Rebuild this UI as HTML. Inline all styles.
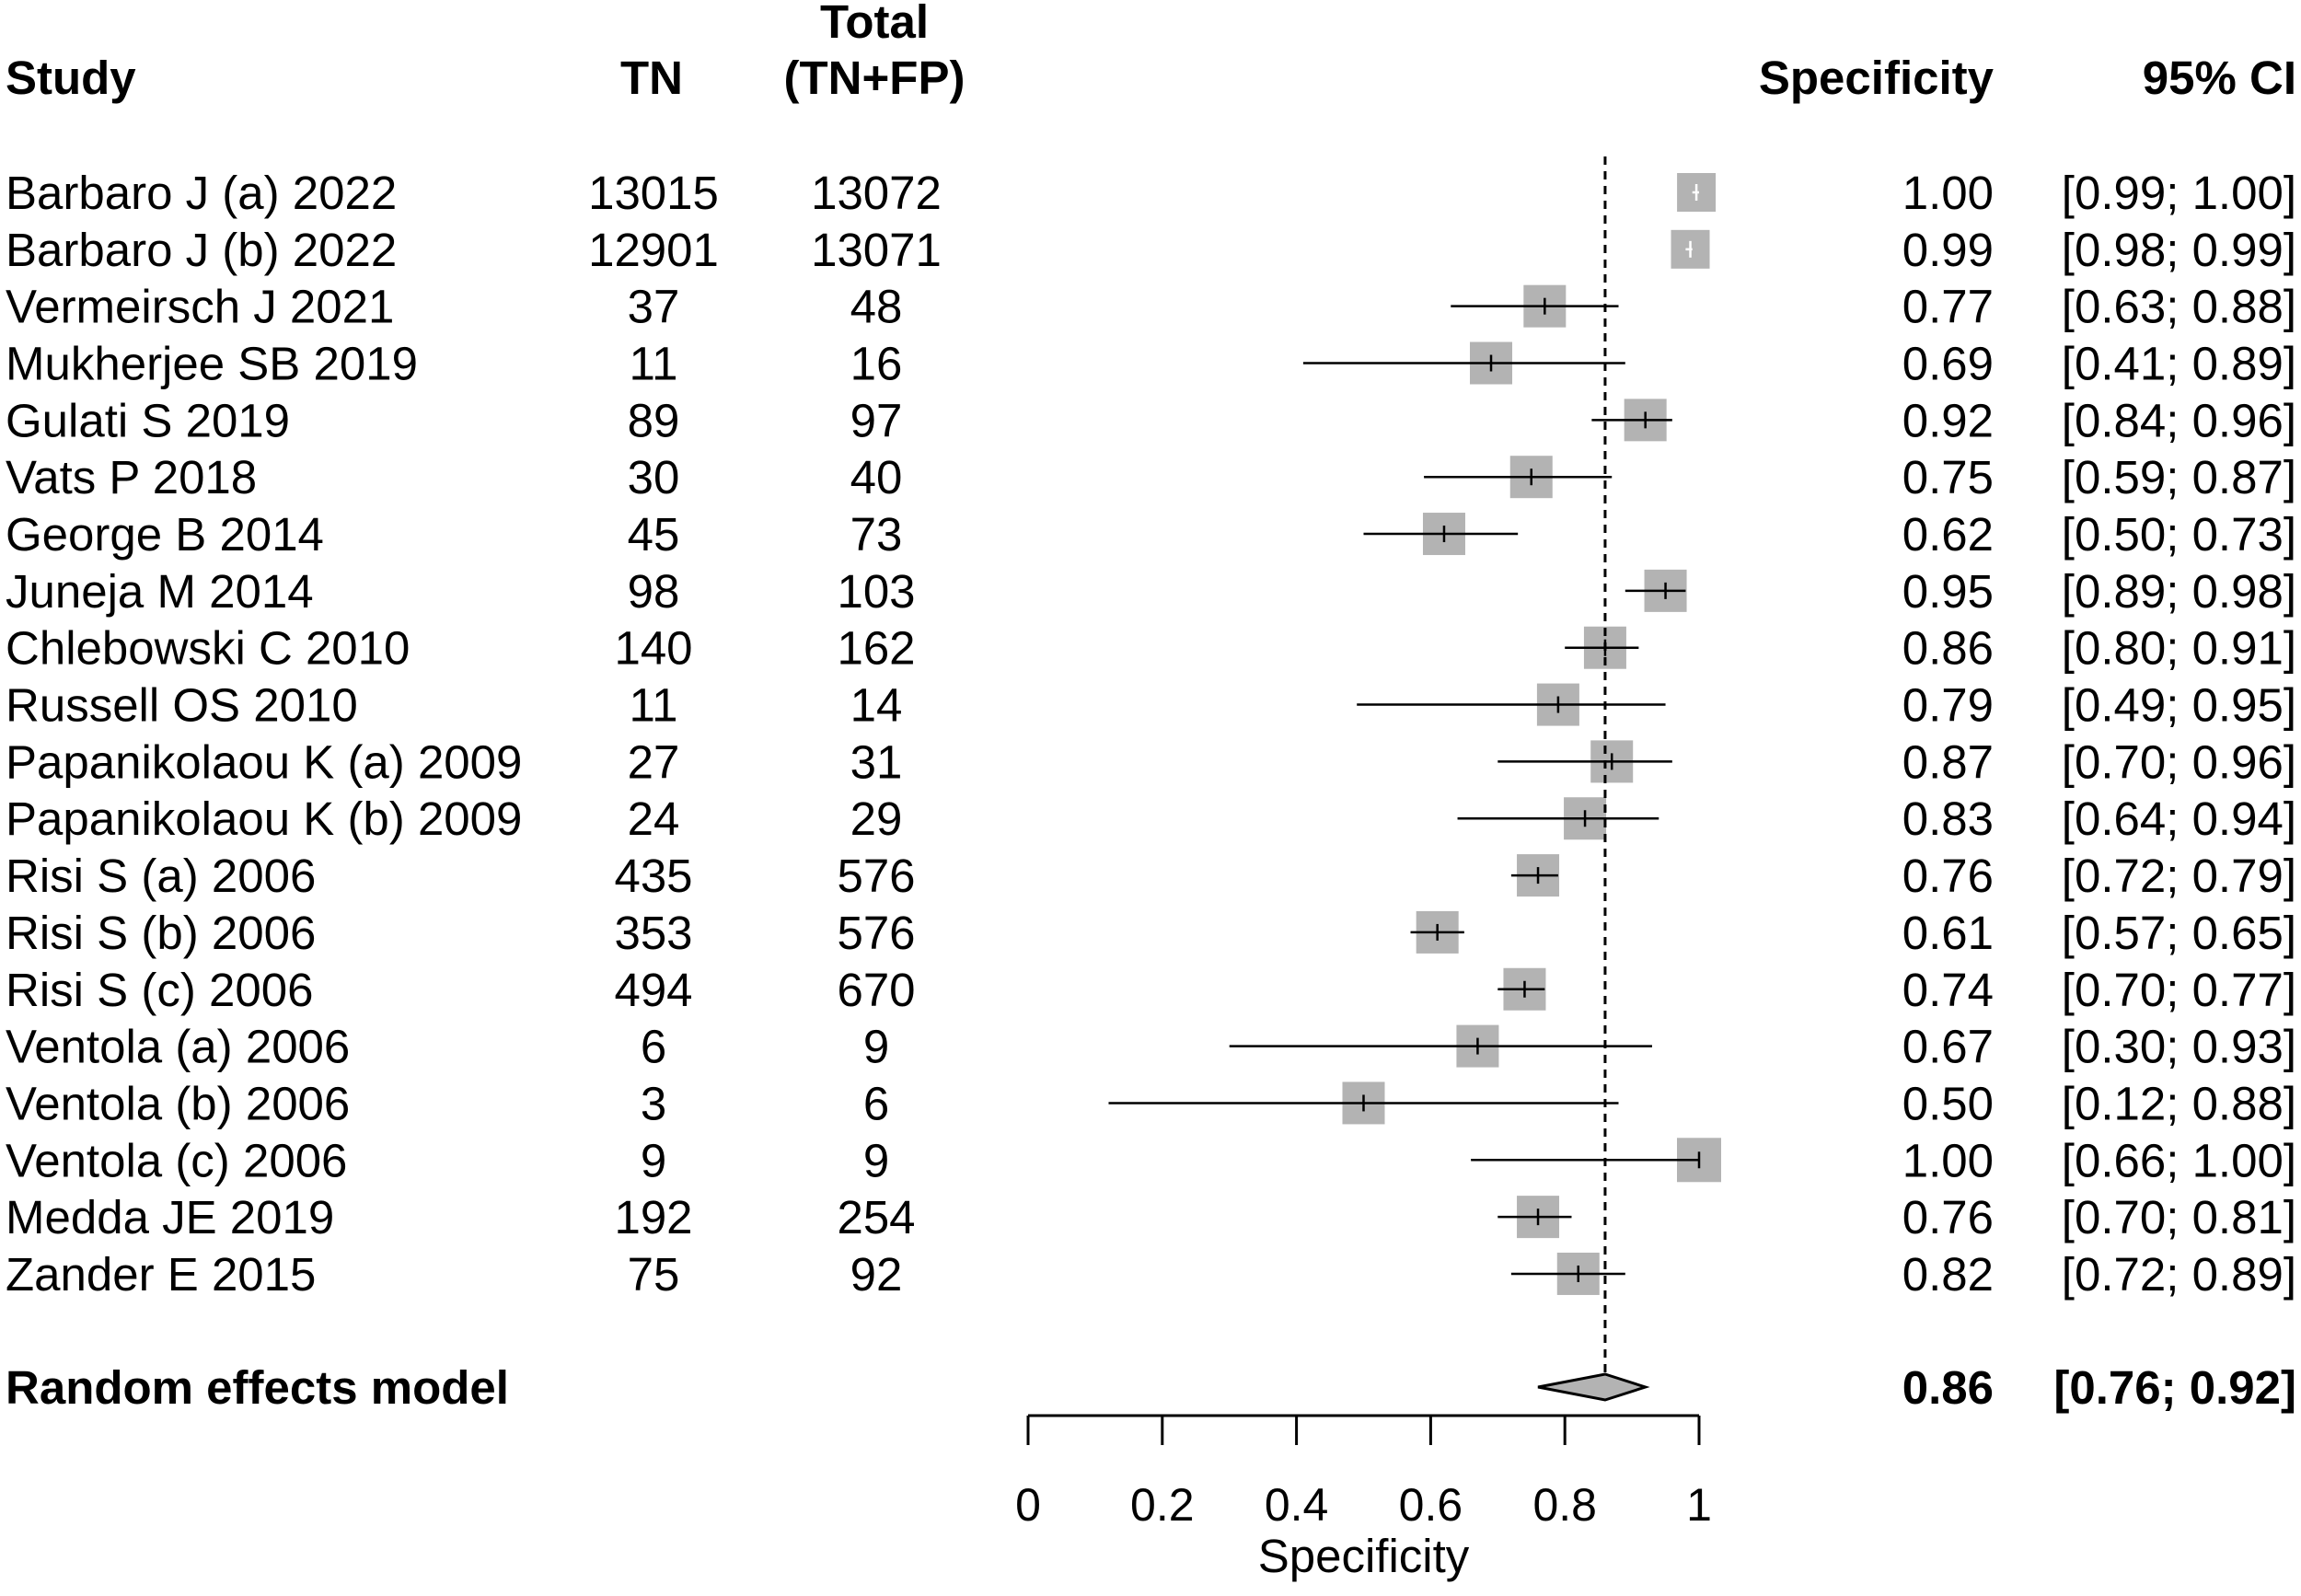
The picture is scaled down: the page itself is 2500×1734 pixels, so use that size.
<!DOCTYPE html>
<html><head><meta charset="utf-8"><style>
body{margin:0;background:#fff}
svg text{font-family:"Liberation Sans",Arial,sans-serif;fill:#000}
</style></head><body>
<svg id="c" width="2500" height="1729" viewBox="0 0 2500 1729" xmlns="http://www.w3.org/2000/svg">
<g font-size="51" font-weight="bold">
<text x="6" y="102">Study</text>
<text x="708" y="102" text-anchor="middle">TN</text>
<text x="950" y="41" text-anchor="middle">Total</text>
<text x="950" y="102" text-anchor="middle">(TN+FP)</text>
<text x="2166" y="102" text-anchor="end">Specificity</text>
<text x="2495" y="102" text-anchor="end">95% CI</text>
</g>
<g id="rows"></g>
<g id="axis"></g>
</svg>
<script>
const studies=["Barbaro J (a) 2022","Barbaro J (b) 2022","Vermeirsch J 2021","Mukherjee SB 2019","Gulati S 2019","Vats P 2018","George B 2014","Juneja M 2014","Chlebowski C 2010","Russell OS 2010","Papanikolaou K (a) 2009","Papanikolaou K (b) 2009","Risi S (a) 2006","Risi S (b) 2006","Risi S (c) 2006","Ventola (a) 2006","Ventola (b) 2006","Ventola (c) 2006","Medda JE 2019","Zander E 2015"];
const tn=[13015,12901,37,11,89,30,45,98,140,11,27,24,435,353,494,6,3,9,192,75];
const total=[13072,13071,48,16,97,40,73,103,162,14,31,29,576,576,670,9,6,9,254,92];
const spec=[0.996,0.987,0.77,0.69,0.92,0.75,0.62,0.95,0.86,0.79,0.87,0.83,0.76,0.61,0.74,0.67,0.50,1.00,0.76,0.82];
const lo=[0.99,0.98,0.63,0.41,0.84,0.59,0.50,0.89,0.80,0.49,0.70,0.64,0.72,0.57,0.70,0.30,0.12,0.66,0.70,0.72];
const hi=[1.00,0.99,0.88,0.89,0.96,0.87,0.73,0.98,0.91,0.95,0.96,0.94,0.79,0.65,0.77,0.93,0.88,1.00,0.81,0.89];
const specLabel=["1.00","0.99","0.77","0.69","0.92","0.75","0.62","0.95","0.86","0.79","0.87","0.83","0.76","0.61","0.74","0.67","0.50","1.00","0.76","0.82"];
const sizes=[42,42,46,46,46,46,46,46,46,46,46,46,46,46,46,46,46,48,46,46];
const pooled=0.86, pooledLo=0.76, pooledHi=0.92;
const ticks=[0,0.2,0.4,0.6,0.8,1];
const tickLabels=["0","0.2","0.4","0.6","0.8","1"];
const NS="http://www.w3.org/2000/svg";
const X=v=>1117+v*729;
const Y=i=>209+i*61.84;
function mk(tag,attrs,parent,text){const e=document.createElementNS(NS,tag);for(const k in attrs)e.setAttribute(k,attrs[k]);if(text!==undefined)e.textContent=text;parent.appendChild(e);return e;}
const rows=document.getElementById('rows');
const FS=51;
studies.forEach((s,i)=>{
 const y=Y(i);
 const g=mk('g',{},rows);
 
 
 let t=mk('text',{x:6,y:y+18,'font-size':FS},g,s);
 
 t=mk('text',{x:710,y:y+18,'font-size':FS,'text-anchor':'middle'},g,tn[i]);
 
 t=mk('text',{x:952,y:y+18,'font-size':FS,'text-anchor':'middle'},g,total[i]);
 
 t=mk('text',{x:2166,y:y+18,'font-size':FS,'text-anchor':'end'},g,specLabel[i]);
 
 t=mk('text',{x:2495,y:y+18,'font-size':FS,'text-anchor':'end'},g,'['+lo[i].toFixed(2)+'; '+hi[i].toFixed(2)+']');
 
 const sz=sizes[i];
 const r=mk('rect',{x:X(spec[i])-sz/2,y:y-sz/2,width:sz,height:sz,fill:'#b3b3b3'},g);
 
 const inside=(X(hi[i])-X(lo[i]))<sz;
 const col=inside?'#fff':'#000';
 const l=mk('line',{x1:X(lo[i]),x2:X(hi[i]),y1:y,y2:y,stroke:col,'stroke-width':2.5},g);
 
 const m=mk('line',{x1:X(spec[i]),x2:X(spec[i]),y1:y-9,y2:y+9,stroke:col,'stroke-width':2.5},g);
 
});
const ax=document.getElementById('axis');
const yd=1507;
let e=mk('line',{x1:X(pooled),x2:X(pooled),y1:170,y2:yd-14,stroke:'#000','stroke-width':3,'stroke-dasharray':'9,7'},ax);

e=mk('polygon',{points:`${X(pooledLo)},${yd} ${X(pooled)},${yd-14} ${X(pooledHi)},${yd} ${X(pooled)},${yd+14}`,fill:'#b3b3b3',stroke:'#000','stroke-width':3},ax);

e=mk('text',{x:6,y:yd+18,'font-size':FS,'font-weight':'bold'},ax,'Random effects model');

e=mk('text',{x:2166,y:yd+18,'font-size':FS,'font-weight':'bold','text-anchor':'end'},ax,pooled.toFixed(2));

e=mk('text',{x:2495,y:yd+18,'font-size':FS,'font-weight':'bold','text-anchor':'end'},ax,'['+pooledLo.toFixed(2)+'; '+pooledHi.toFixed(2)+']');

e=mk('line',{x1:X(0),x2:X(1),y1:1538,y2:1538,stroke:'#000','stroke-width':3},ax);

ticks.forEach((v,i)=>{
 const t=mk('line',{x1:X(v),x2:X(v),y1:1538,y2:1570,stroke:'#000','stroke-width':3},ax);
 
 const l=mk('text',{x:X(v),y:1652,'font-size':50,'text-anchor':'middle'},ax,tickLabels[i]);
 
});
e=mk('text',{x:X(0.5),y:1708,'font-size':51,'text-anchor':'middle'},ax,'Specificity');

</script>
</body></html>
